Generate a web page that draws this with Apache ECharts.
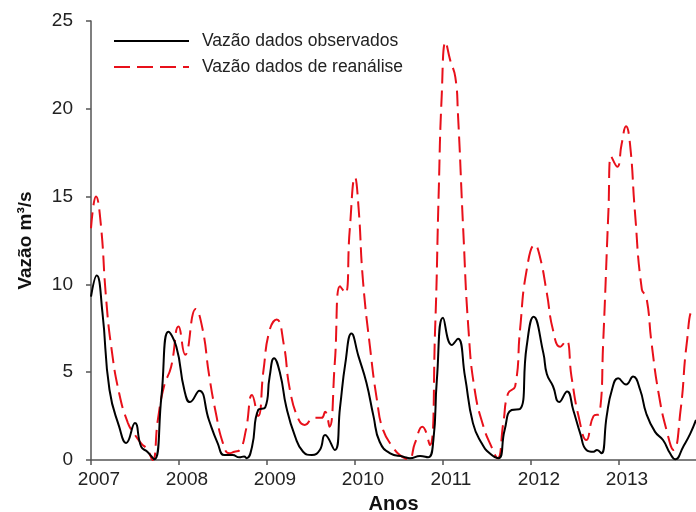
<!DOCTYPE html>
<html>
<head>
<meta charset="utf-8">
<script src="https://cdn.jsdelivr.net/npm/echarts@6/dist/echarts.min.js"></script>
<style>
  html, body { margin: 0; padding: 0; background: #fff; }
  #chart { width: 696px; height: 512px; }
</style>
</head>
<body>
<div id="chart"></div>
<script>
// observed flow (black)
const obsYears = [2007.00, 2007.065, 2007.13, 2007.21, 2007.32, 2007.40, 2007.50, 2007.57, 2007.64, 2007.72,
  2007.80, 2007.88, 2007.97, 2008.06, 2008.125, 2008.23, 2008.34, 2008.44, 2008.515, 2008.61,
  2008.685, 2008.74, 2008.77, 2008.83, 2008.90, 2008.98, 2009.03, 2009.08, 2009.15, 2009.22,
  2009.32, 2009.41, 2009.51, 2009.60, 2009.66, 2009.77, 2009.83, 2009.89, 2009.96, 2010.04,
  2010.13, 2010.21, 2010.28, 2010.40, 2010.55, 2010.625, 2010.74, 2010.83, 2010.89, 2010.93,
  2011.00, 2011.10, 2011.17, 2011.25, 2011.34, 2011.44, 2011.53, 2011.63, 2011.70, 2011.78,
  2011.875, 2011.95, 2012.03, 2012.14, 2012.18, 2012.25, 2012.32, 2012.41, 2012.48, 2012.56,
  2012.63, 2012.71, 2012.75, 2012.80, 2012.86, 2012.92, 2012.99, 2013.08, 2013.16, 2013.24,
  2013.31, 2013.41, 2013.50, 2013.58, 2013.64, 2013.73, 2013.81, 2013.875];
const obsValues = [9.3, 10.5, 8.4, 4.0, 1.9, 0.97, 2.1, 0.76, 0.47, 0.04,
  3.6, 7.3, 6.45, 4.0, 3.3, 3.95, 2.28, 0.95, 0.28, 0.28,
  0.15, 0.2, 0.1, 0.76, 2.85, 3.0, 4.75, 5.8, 4.9, 3.0,
  1.33, 0.47, 0.28, 0.57, 1.42, 0.57, 3.0, 5.5, 7.2, 5.9,
  4.4, 2.5, 1.04, 0.38, 0.19, 0.1, 0.23, 0.15, 1.1, 4.55,
  8.1, 6.55, 6.9, 4.75, 2.1, 0.95, 0.38, 0.1, 1.7, 2.85,
  2.9, 6.45, 8.16, 6.1, 4.9, 4.2, 3.3, 3.9, 2.85, 1.5,
  0.57, 0.47, 0.57, 0.38, 2.5, 4.0, 4.65, 4.3, 4.75, 4.0,
  2.65, 1.6, 1.14, 0.38, 0.04, 0.76, 1.5, 2.28];

// reanalysis flow (red dashed)
const reaYears = [2007.00, 2007.057, 2007.11, 2007.17, 2007.23, 2007.32, 2007.42, 2007.49, 2007.57, 2007.64,
  2007.70, 2007.76, 2007.83, 2007.91, 2007.995, 2008.07, 2008.19, 2008.27, 2008.34, 2008.42,
  2008.50, 2008.57, 2008.63, 2008.69, 2008.76, 2008.83, 2008.90, 2008.96, 2009.03, 2009.11,
  2009.19, 2009.26, 2009.36, 2009.43, 2009.53, 2009.62, 2009.66, 2009.71, 2009.77, 2009.83,
  2009.89, 2009.94, 2010.00, 2010.04, 2010.09, 2010.17, 2010.25, 2010.32, 2010.44, 2010.51,
  2010.61, 2010.68, 2010.765, 2010.85, 2010.91, 2010.95, 2010.985, 2011.03, 2011.08, 2011.14,
  2011.17, 2011.23, 2011.29, 2011.36, 2011.46, 2011.55, 2011.62, 2011.685, 2011.74, 2011.82,
  2011.875, 2011.95, 2012.045, 2012.10, 2012.18, 2012.25, 2012.33, 2012.40, 2012.46, 2012.54,
  2012.63, 2012.71, 2012.78, 2012.82, 2012.88, 2012.91, 2012.98, 2013.03, 2013.08, 2013.125,
  2013.18, 2013.26, 2013.31, 2013.37, 2013.45, 2013.54, 2013.62, 2013.70, 2013.77, 2013.84, 2013.875];
const reaValues = [13.2, 15.0, 13.5, 9.3, 6.45, 3.8, 2.1, 1.5, 0.95, 0.6,
  0.0, 2.3, 4.2, 5.3, 7.6, 6.0, 8.6, 7.4, 4.9, 2.65,
  0.95, 0.38, 0.47, 0.57, 1.7, 3.7, 2.5, 5.1, 7.4, 8.0,
  6.6, 4.0, 2.3, 2.0, 2.4, 2.4, 2.75, 1.9, 5.5, 9.9,
  9.5, 13.1, 16.1, 14.4, 10.25, 6.45, 3.4, 1.7, 0.66, 0.28,
  0.04, 0.95, 1.9, 0.85, 7.4, 15.0, 20.7, 23.8, 22.8, 21.8,
  19.7, 13.1, 7.4, 4.0, 1.9, 0.76, 0.1, 2.1, 3.8, 4.2,
  7.4, 10.8, 12.25, 11.6, 9.5, 7.4, 6.45, 6.8, 4.75, 2.5,
  1.14, 2.5, 2.65, 6.65, 14.2, 17.3, 16.7, 18.0, 19.0, 18.0,
  14.2, 9.7, 9.3, 6.65, 3.8, 1.7, 0.57, 2.85, 6.65, 8.5, 8.5];

const seriesNames = ["Vazão dados observados", "Vazão dados de reanálise"];

const pairs = (xs, ys) => xs.map((x, i) => [x, ys[i]]);

const chart = echarts.init(document.getElementById("chart"));
const axisColor = "#555";
const font = "Liberation Sans, Arial, sans-serif";

chart.setOption({
  animation: false,
  textStyle: { fontFamily: font },
  grid: { left: 91, right: 0, top: 21, bottom: 52, containLabel: false, outerBoundsMode: "none" },
  legend: {
    orient: "vertical",
    left: 108,
    top: 27,
    itemWidth: 75,
    itemHeight: 14,
    itemGap: 8,
    itemStyle: { opacity: 0 },
    textStyle: { fontSize: 17.5, color: "#222", fontFamily: font, padding: [0, 0, 0, 8] },
    data: seriesNames
  },
  xAxis: {
    type: "value",
    min: 2007,
    max: 2013.875,
    interval: 1,
    name: "Anos",
    nameLocation: "middle",
    nameGap: 34,
    nameTextStyle: { fontSize: 20, fontWeight: "bold", color: "#111", fontFamily: font },
    splitLine: { show: false },
    axisLine: { onZero: false, lineStyle: { color: axisColor, width: 1.5 } },
    axisTick: { inside: false, length: 5, lineStyle: { color: axisColor, width: 1.5 } },
    axisLabel: {
      fontSize: 19, color: "#222", margin: 10, padding: [0, 0, 0, 16],
      showMaxLabel: false,
      formatter: v => String(v)
    }
  },
  yAxis: {
    type: "value",
    min: 0,
    max: 25,
    interval: 5,
    name: "Vazão m³/s",
    nameLocation: "middle",
    nameGap: 56,
    nameTextStyle: { fontSize: 19, fontWeight: "bold", color: "#111", fontFamily: font },
    splitLine: { show: false },
    axisLine: { show: true, lineStyle: { color: axisColor, width: 1.5 } },
    axisTick: { show: true, length: 5, lineStyle: { color: axisColor, width: 1.5 } },
    axisLabel: { fontSize: 19, color: "#222", margin: 18 }
  },
  series: [
    {
      name: seriesNames[0],
      type: "line",
      data: pairs(obsYears, obsValues),
      symbol: "none",
      smooth: 0.5,
      z: 3,
      lineStyle: { color: "#000", width: 2 },
      itemStyle: { color: "#000" }
    },
    {
      name: seriesNames[1],
      type: "line",
      data: pairs(reaYears, reaValues),
      symbol: "none",
      smooth: 0.5,
      z: 2,
      lineStyle: { color: "#e8101a", width: 2, type: [16, 7] },
      itemStyle: { color: "#e8101a" }
    }
  ]
});
</script>
</body>
</html>
